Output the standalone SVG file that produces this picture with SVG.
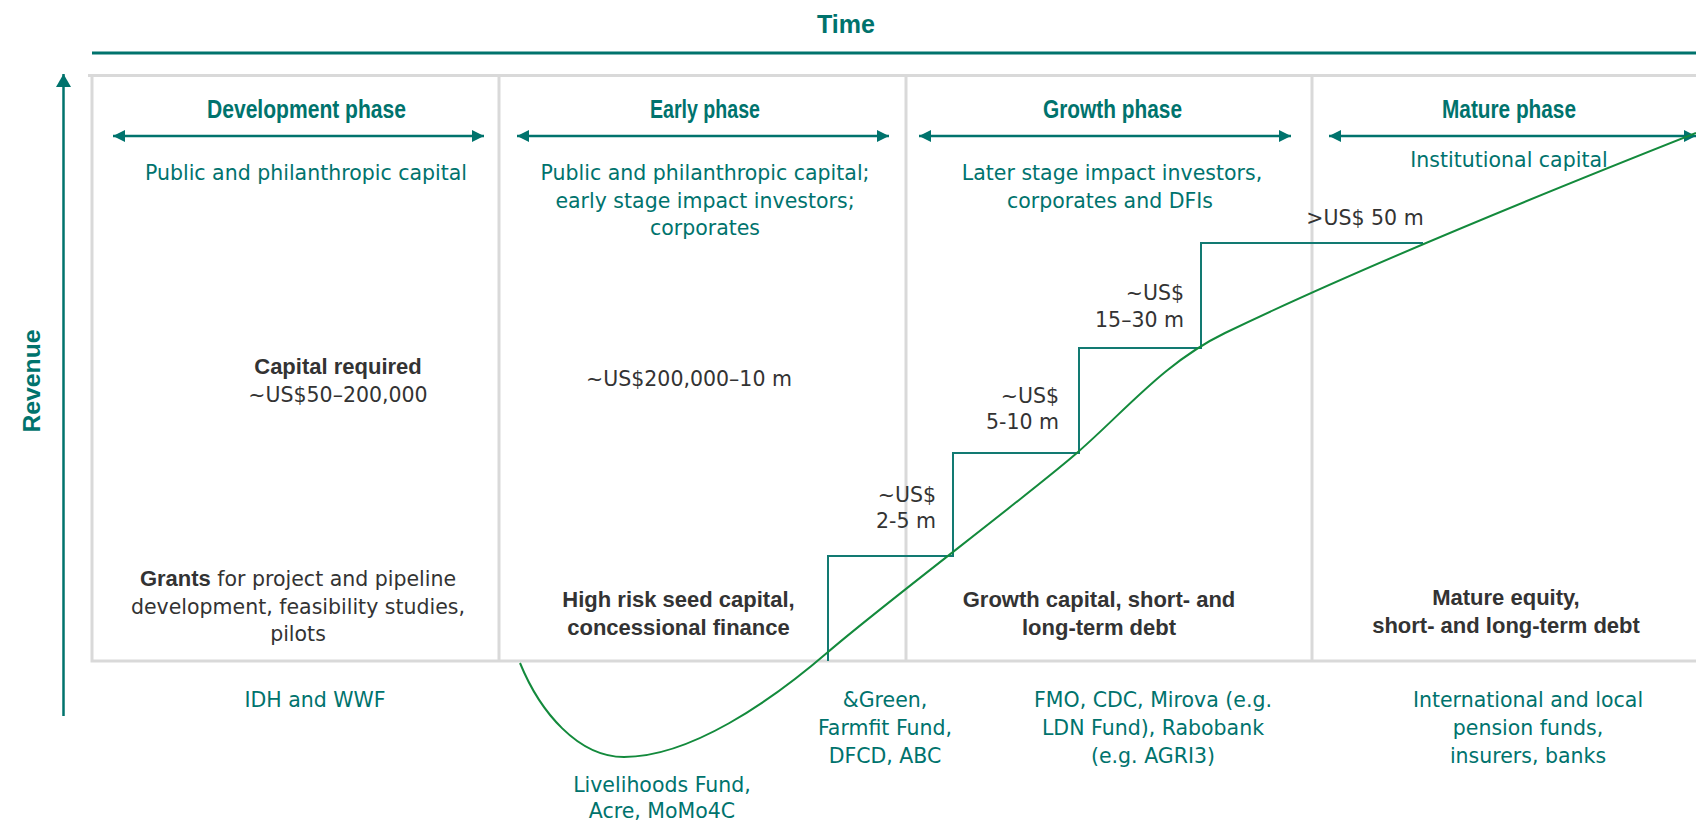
<svg xmlns="http://www.w3.org/2000/svg" width="1696" height="822" viewBox="0 0 1696 822">
<style>
.title{font-family:"Liberation Sans",Arial,sans-serif;font-weight:bold;fill:#00736d;text-anchor:middle}
.teal{font-family:"DejaVu Sans",sans-serif;font-size:20.5px;fill:#00736d;text-anchor:middle}
.dark{font-family:"DejaVu Sans",sans-serif;font-size:20.5px;fill:#333333;text-anchor:middle}
.darkr{font-family:"DejaVu Sans",sans-serif;font-size:20.5px;fill:#333333;text-anchor:end}
.bold{font-family:"Liberation Sans",Arial,sans-serif;font-weight:bold;font-size:22px;fill:#333333;text-anchor:middle}
.b{font-family:"Liberation Sans",Arial,sans-serif;font-weight:bold;font-size:22px}
.grid{stroke:#d9d9d9;stroke-width:3;fill:none}
.phase{stroke:#00736d;stroke-width:2.5;fill:none;marker-start:url(#ah);marker-end:url(#ah)}
</style>
<defs>
<marker id="ah" markerUnits="userSpaceOnUse" markerWidth="13" markerHeight="13" refX="12" refY="6.5" orient="auto-start-reverse" viewBox="0 0 13 13">
<path d="M0,0.5 L12,6.5 L0,12.5 z" fill="#00736d"/>
</marker>
<marker id="ahv" markerUnits="userSpaceOnUse" markerWidth="16" markerHeight="16" refX="13" refY="8" orient="auto" viewBox="0 0 16 16">
<path d="M0,0.5 L13,8 L0,15.5 z" fill="#00736d"/>
</marker>
</defs>
<rect width="1696" height="822" fill="#ffffff"/>

<g id="axes">
<text class="title" x="846" y="33" font-size="25" textLength="58" lengthAdjust="spacingAndGlyphs">Time</text>
<line x1="92" y1="53" x2="1696" y2="53" stroke="#00736d" stroke-width="3"/>
<line x1="63.5" y1="716" x2="63.5" y2="74" stroke="#00736d" stroke-width="2.5" marker-end="url(#ahv)"/>
<text class="title" transform="translate(39.5,381) rotate(-90)" font-size="24" textLength="103" lengthAdjust="spacingAndGlyphs">Revenue</text>
</g>

<g id="grid">
<path class="grid" d="M1700,75.5 H88 M92,75.5 V661 H1700"/>
<line class="grid" x1="499" y1="75.5" x2="499" y2="661"/>
<line class="grid" x1="906" y1="75.5" x2="906" y2="661"/>
<line class="grid" x1="1312" y1="75.5" x2="1312" y2="661"/>
</g>

<g id="development-phase">
<text class="title" x="306.5" y="118" font-size="26" textLength="199" lengthAdjust="spacingAndGlyphs">Development phase</text>
<line class="phase" x1="113" y1="136" x2="484" y2="136"/>
<text class="teal" x="306" y="180">Public and philanthropic capital</text>
<text class="bold" x="338" y="374">Capital required</text>
<text class="dark" x="338" y="402">~US$50–200,000</text>
<text class="dark" x="298" y="586"><tspan class="b">Grants</tspan> for project and pipeline</text>
<text class="dark" x="298" y="613.5">development, feasibility studies,</text>
<text class="dark" x="298" y="641">pilots</text>
<text class="teal" x="315" y="706.5">IDH and WWF</text>
</g>

<g id="early-phase">
<text class="title" x="705" y="118" font-size="26" textLength="110" lengthAdjust="spacingAndGlyphs">Early phase</text>
<line class="phase" x1="517" y1="136" x2="889" y2="136"/>
<text class="teal" x="705" y="180">Public and philanthropic capital;</text>
<text class="teal" x="705" y="207.5">early stage impact investors;</text>
<text class="teal" x="705" y="235">corporates</text>
<text class="dark" x="689" y="386">~US$200,000–10 m</text>
<text class="bold" x="678.5" y="606.5">High risk seed capital,</text>
<text class="bold" x="678.5" y="635">concessional finance</text>
<text class="teal" x="662" y="791.5">Livelihoods Fund,</text>
<text class="teal" x="662" y="818">Acre, MoMo4C</text>
</g>

<g id="growth-phase">
<text class="title" x="1112.5" y="118" font-size="26" textLength="139" lengthAdjust="spacingAndGlyphs">Growth phase</text>
<line class="phase" x1="919" y1="136" x2="1291" y2="136"/>
<text class="teal" x="1112" y="180">Later stage impact investors,</text>
<text class="teal" x="1110" y="207.5">corporates and DFIs</text>
<text class="bold" x="1099" y="606.5">Growth capital, short- and</text>
<text class="bold" x="1099" y="635">long-term debt</text>
<text class="teal" x="885" y="706.5">&amp;Green,</text>
<text class="teal" x="885" y="735">Farmfit Fund,</text>
<text class="teal" x="885" y="763">DFCD, ABC</text>
<text class="teal" x="1153" y="706.5">FMO, CDC, Mirova (e.g.</text>
<text class="teal" x="1153" y="735">LDN Fund), Rabobank</text>
<text class="teal" x="1153" y="763">(e.g. AGRI3)</text>
</g>

<g id="mature-phase">
<text class="title" x="1509" y="118" font-size="26" textLength="134" lengthAdjust="spacingAndGlyphs">Mature phase</text>
<line class="phase" x1="1329" y1="136" x2="1696" y2="136"/>
<text class="teal" x="1509" y="167">Institutional capital</text>
<text class="bold" x="1506" y="605">Mature equity,</text>
<text class="bold" x="1506" y="633">short- and long-term debt</text>
<text class="teal" x="1528" y="706.5">International and local</text>
<text class="teal" x="1528" y="735">pension funds,</text>
<text class="teal" x="1528" y="763">insurers, banks</text>
</g>

<g id="connectors">
<path d="M828,661 V556 H953 V453 H1079 V348 H1201 V243 H1423" fill="none" stroke="#127a72" stroke-width="2"/>
<path d="M520,663 C540,712 578,757 624,757 C690,757 770,702 828,652 C886,602 1030,494 1078,452 C1126,410 1165,362 1225,333 C1285,304 1400,250 1696,133" fill="none" stroke="#138a3c" stroke-width="2"/>
</g>

<g id="amounts">
<text class="darkr" x="936" y="501.5">~US$</text>
<text class="darkr" x="936" y="527.5">2-5 m</text>
<text class="darkr" x="1059" y="403">~US$</text>
<text class="darkr" x="1059" y="429">5-10 m</text>
<text class="darkr" x="1184" y="300">~US$</text>
<text class="darkr" x="1184" y="327">15–30 m</text>
<text class="dark" x="1365" y="225">&gt;US$ 50 m</text>
</g>
</svg>
